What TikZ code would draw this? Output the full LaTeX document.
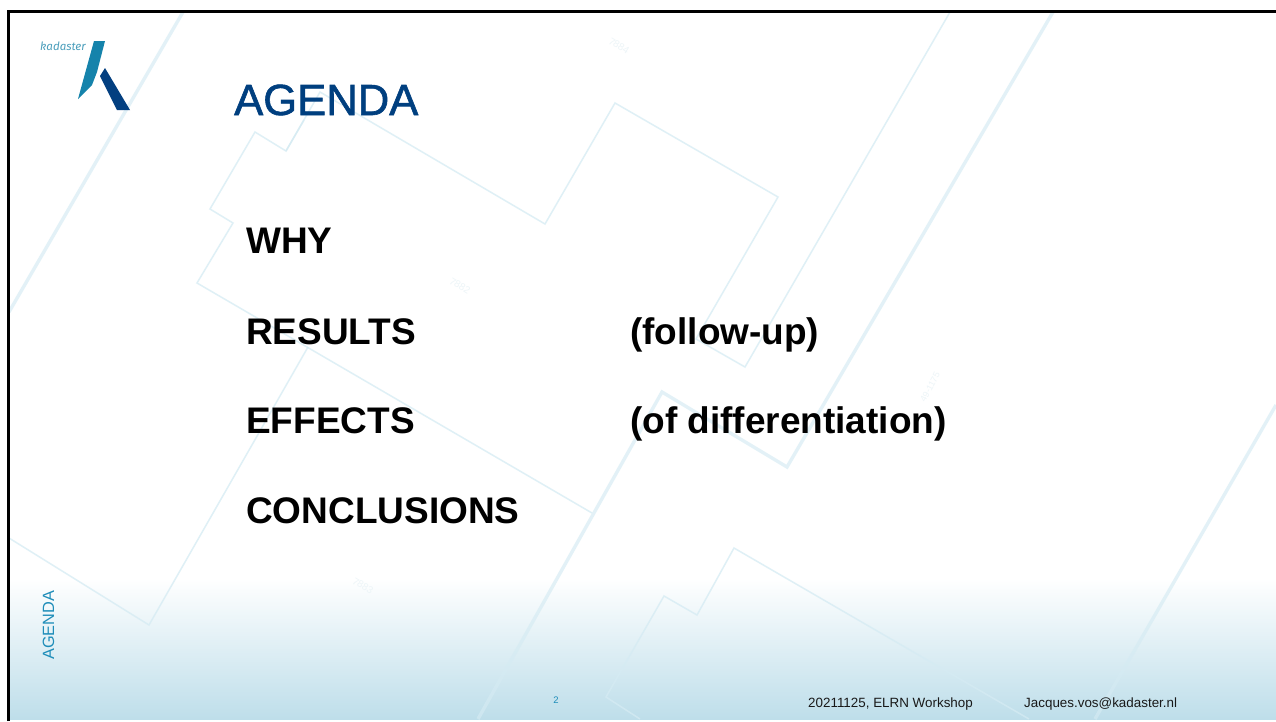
\documentclass[tikz,border=0pt]{standalone}
\usepackage{fontspec}
\setmainfont{Liberation Sans}
\newfontfamily\logofont{Fira Sans}
\newfontfamily\titlefont[FakeBold=1.4]{Liberation Sans}
\definecolor{titleblue}{HTML}{003F7F}
\definecolor{sideblue}{HTML}{1E8DB9}
\definecolor{logoteal}{HTML}{1583AB}
\definecolor{logoblue}{HTML}{033F80}
\definecolor{logotext}{HTML}{4C9FBC}
\definecolor{parcel}{HTML}{D5EBF3}
\definecolor{numgrey}{HTML}{EDF5F8}
\definecolor{footblue}{HTML}{BEDEEA}
\tikzset{
  thinparcel/.style={draw=parcel,line width=1.5pt,opacity=.75,line join=miter},
  thickparcel/.style={draw=parcel,line width=3.4pt,opacity=.65,line join=miter},
  parcelnum/.style={text=numgrey,font=\fontsize{10}{12}\selectfont,inner sep=0pt},
  head/.style={anchor=base west,inner sep=0pt,font=\fontsize{37}{40}\selectfont\bfseries,text=black},
  foot/.style={anchor=base west,inner sep=0pt,font=\fontsize{13.4}{15}\selectfont,text=black!90}
}
\begin{document}
\begin{tikzpicture}[x=1pt,y=-1pt]
\useasboundingbox (0,0) rectangle (1276,721);
\fill[white] (0,0) rectangle (1276,721);
% footer gradient
\shade[top color=white,bottom color=footblue] (9,578) rectangle (1276,719);
% parcel lines
\begin{scope}
\clip (9,12) rectangle (1276,719);
\draw[thickparcel] (183,12) -- (9,312);
\draw[thinparcel] (304,120) -- (286,151) -- (255,132) -- (210,209) -- (233,223) -- (197,283) -- (592,513);
\draw[thinparcel] (286,151) -- (320,92) -- (545,224) -- (615,103) -- (778,197) -- (696,339) -- (745,367) -- (950,12);
\draw[thickparcel] (1053,12) -- (787,467) -- (662,392) -- (478,719);
\draw[thinparcel] (308,347) -- (149,625) -- (9,538);
\draw[thickparcel] (1276,405) -- (1095,719);
\draw[thinparcel] (640,719) -- (606,697) -- (664,596) -- (697,615) -- (734,548) -- (1029,719);
\end{scope}
\node[parcelnum,rotate=-32] (n7884) at (619,46) {7884};
\node[parcelnum,rotate=-32] (n7882) at (460,286) {7882};
\node[parcelnum,rotate=-32] (n7883) at (363,586) {7883};
\node[parcelnum,rotate=62,font=\fontsize{9}{11}\selectfont] (n49) at (930,387) {49-1175};
% frame
\draw[black,line width=3pt] (8.5,721) -- (8.5,11.5) -- (1276,11.5);
% logo
\fill[logoteal] (94,41) -- (105,41) -- (97,72) -- (92,85) -- (78,99) -- cycle;
\fill[logoblue] (105,68) -- (100,76) -- (117,110) -- (130,110) -- cycle;
\node[anchor=base west,inner sep=0pt,text=logotext,font=\logofont\itshape\fontsize{11.5}{13}\selectfont] (kad) at (40,50) {kadaster};
% title and text
\node[anchor=base west,inner sep=0pt,text=titleblue,font=\titlefont\fontsize{43.6}{48}\selectfont] (title) at (234,115) {AGENDA};
\node[head] (why) at (246,253) {WHY};
\node[head] (res) at (246,344) {RESULTS};
\node[head] (eff) at (246,433) {EFFECTS};
\node[head] (con) at (246,523) {CONCLUSIONS};
\node[head] (fol) at (630,344) {(follow-up)};
\node[head] (dif) at (630,433) {(of differentiation)};
\node[anchor=base west,inner sep=0pt,rotate=90,text=sideblue,font=\fontsize{16.3}{18}\selectfont] (side) at (54,660) {AGENDA};
\node[anchor=base,inner sep=0pt,text=sideblue,font=\fontsize{9.5}{11}\selectfont] (pg) at (556,703) {2};
\node[foot] (wk) at (808,707) {20211125, ELRN Workshop};
\node[foot] (mail) at (1024,707) {Jacques.vos@kadaster.nl};
\end{tikzpicture}
\end{document}
